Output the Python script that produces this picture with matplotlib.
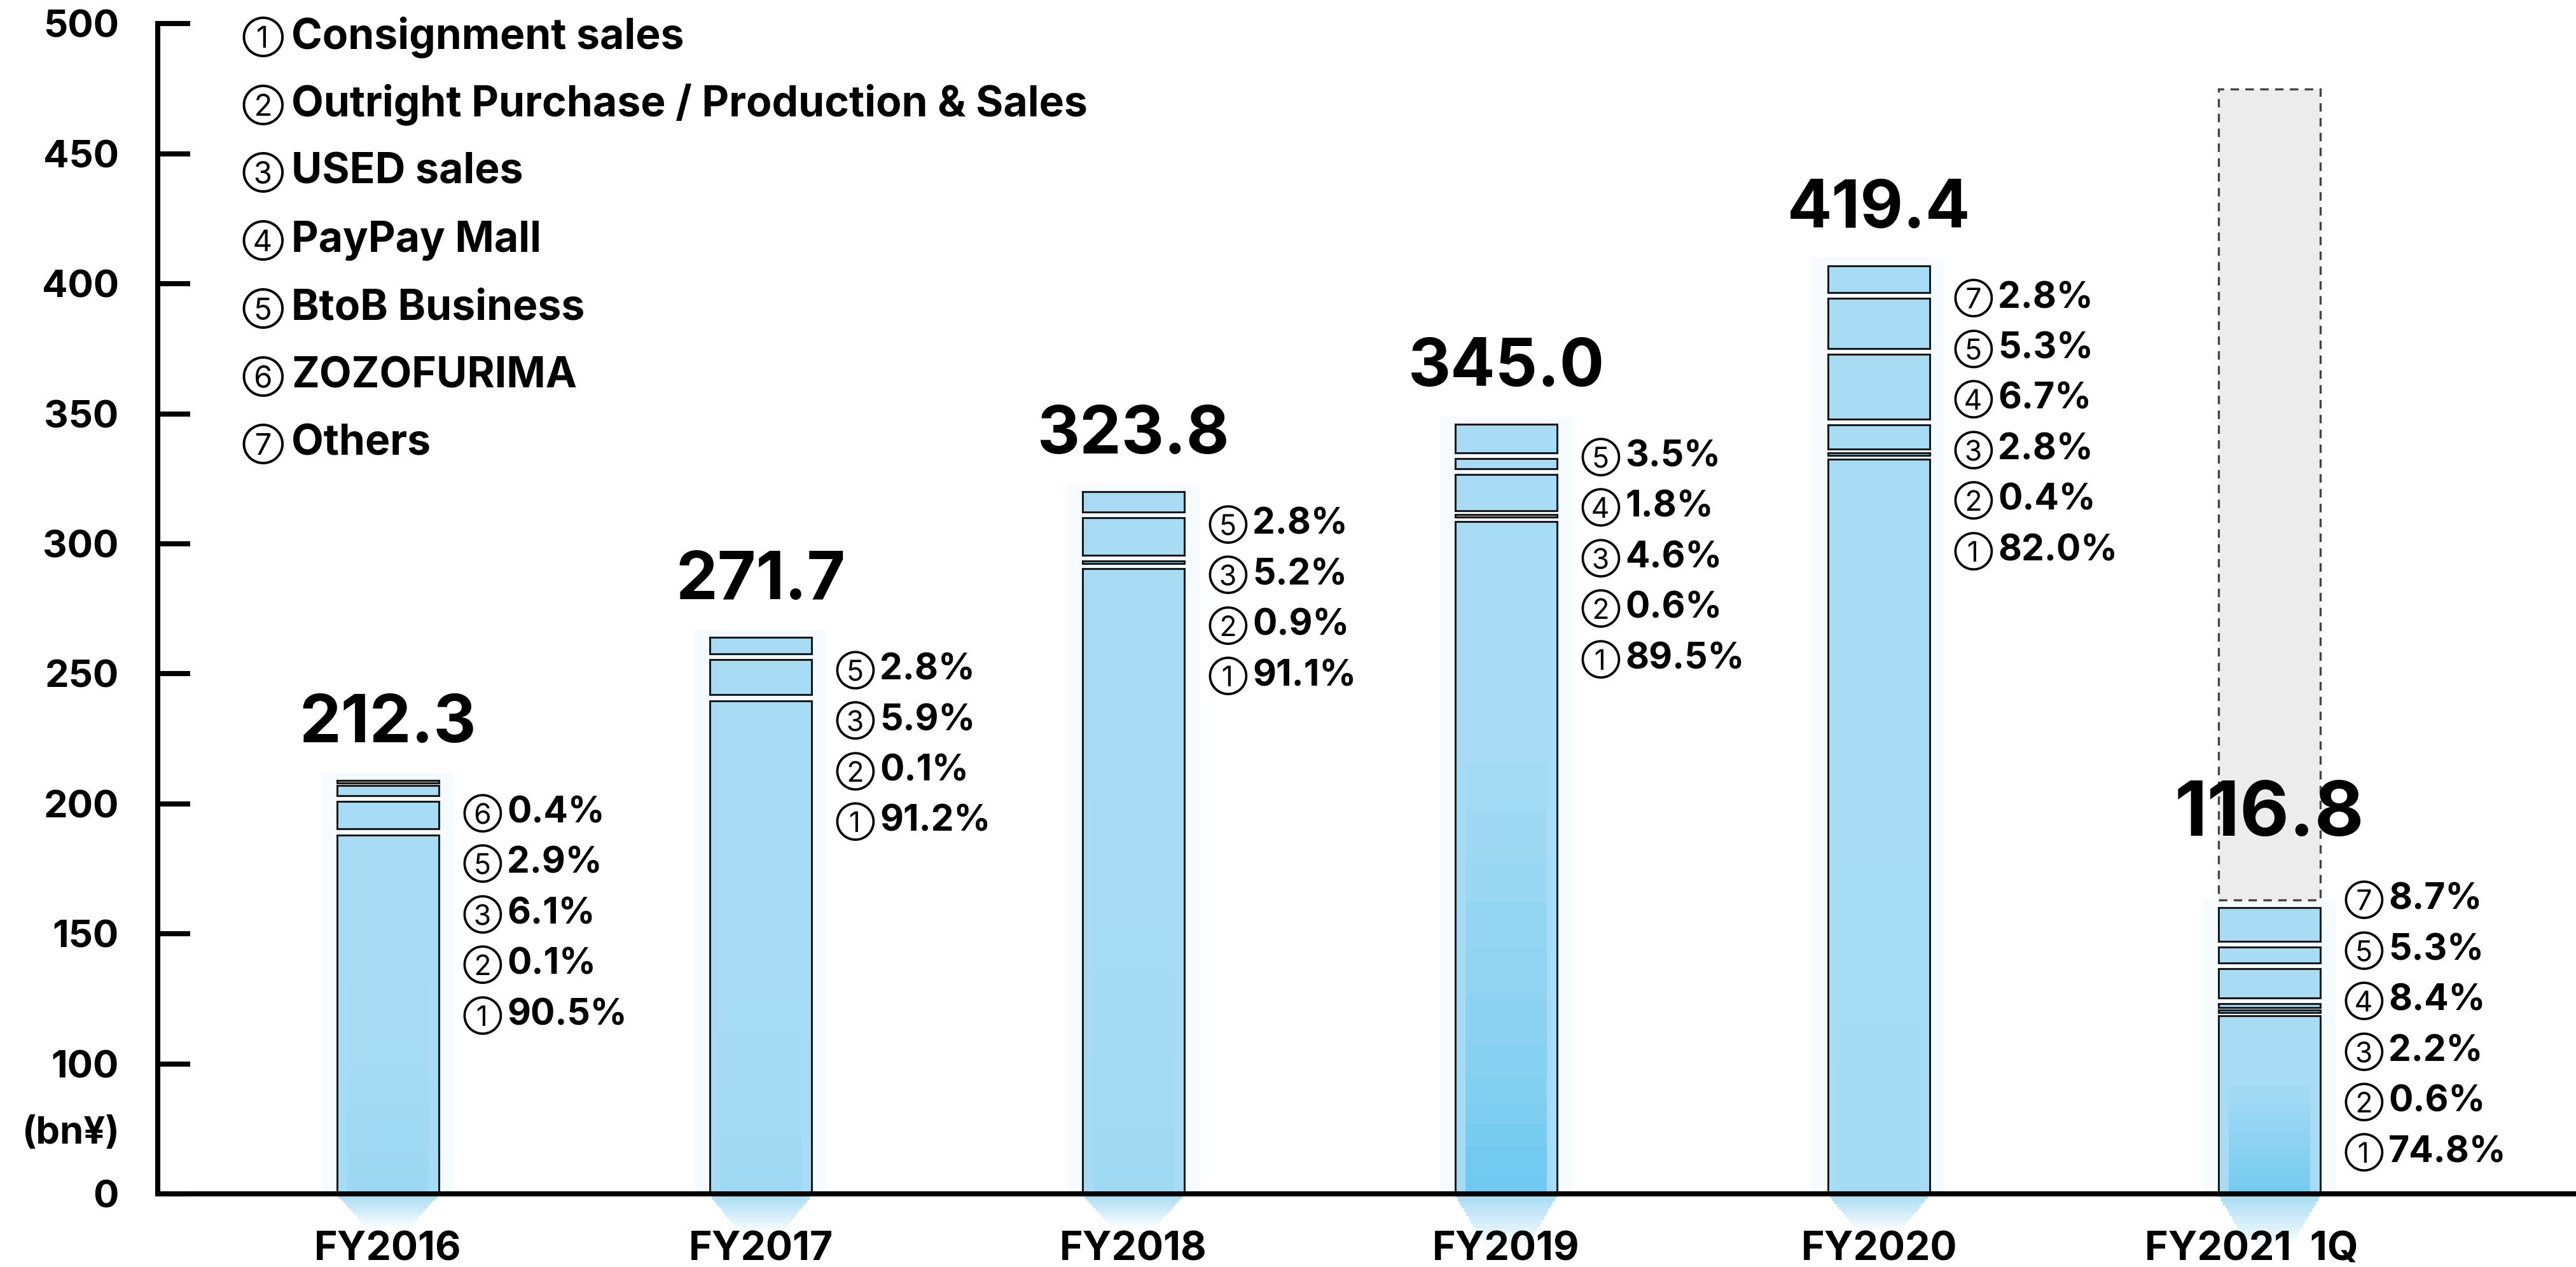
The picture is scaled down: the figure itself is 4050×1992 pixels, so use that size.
"""Gross merchandise value by business, FY2016 - FY2021 1Q (watercolour style bars)."""

import numpy as np
import matplotlib

matplotlib.use("Agg")
import matplotlib.pyplot as plt  # noqa: E402
from matplotlib.patches import Rectangle  # noqa: E402

plt.rcParams["font.family"] = ["Inter", "Noto Sans CJK JP", "DejaVu Sans"]
plt.rcParams["font.weight"] = "bold"

years = ["FY2016", "FY2017", "FY2018", "FY2019", "FY2020", "FY2021  1Q"]
total_labels = ["212.3", "271.7", "323.8", "345.0", "419.4", "116.8"]
# bar tops as they are drawn in the artwork (the drawing is not to scale)
drawn_height = [209, 264, 320, 346, 407, 160]
forecast_top = 475  # dashed grey box above the 1Q bar

segment_names = ["Consignment sales", "Outright Purchase / Production & Sales",
                 "USED sales", "PayPay Mall", "BtoB Business", "ZOZOFURIMA", "Others"]
marks = ["①", "②", "③", "④", "⑤", "⑥", "⑦"]

nan = np.nan
consignment = [90.5, 91.2, 91.1, 89.5, 82.0, 74.8]
outright = [0.1, 0.1, 0.9, 0.6, 0.4, 0.6]
used = [6.1, 5.9, 5.2, 4.6, 2.8, 2.2]
paypay = [nan, nan, nan, 1.8, 6.7, 8.4]
btob = [2.9, 2.8, 2.8, 3.5, 5.3, 5.3]
zozofurima = [0.4, nan, nan, nan, nan, nan]
others = [nan, nan, nan, nan, 2.8, 8.7]
shares = np.array([consignment, outright, used, paypay, btob, zozofurima, others])

yticks = [0, 100, 150, 200, 250, 300, 350, 400, 450, 500]

BLUE = "#a8dcf4"
DARK_BLUE = "#5cc3ef"
wash = [0.15, 0.10, 0.10, 0.75, 0.08, 0.65]   # darker pigment pooling at the bottom
tail = [26, 30, 26, 40, 28, 40]               # colour bleeding under the axis
shift = [0, 0, 0, 0, 0, 0.048]                # last bar sits a little right of its label
BAR_W = 0.273
GAP = 2.2


def fwd(v):
    v = np.asarray(v, dtype=float)
    return np.where(v < 100, v / 2.0, v - 50.0)


def inv(t):
    t = np.asarray(t, dtype=float)
    return np.where(t < 50, t * 2.0, t + 50.0)


fig = plt.figure(figsize=(40.5, 19.92), dpi=100)
ax = fig.add_axes([0.0612, 0.0577, 0.9388, 0.9235])
ax.set_yscale("function", functions=(fwd, inv))

x = np.arange(len(years))
last = len(x) - 1
for i in range(len(x)):
    xi = x[i] + shift[i]
    top = drawn_height[i]
    # faint halo of the brush stroke
    ax.bar(xi, top + 3, width=BAR_W * 1.3, color="#f5fbfe", zorder=1)
    # bleeding tail below the baseline
    n = 14
    for k in range(n):
        f = k / n
        ax.add_patch(Rectangle((xi - BAR_W * (1 - 0.6 * f) / 2, -tail[i] * (f + 1 / n)),
                               BAR_W * (1 - 0.6 * f), tail[i] / n, facecolor=BLUE,
                               alpha=1 - f, lw=0, zorder=1, clip_on=False))

    vals = shares[:, i]
    bottom = 0.0
    for j, s in enumerate(vals):
        if np.isnan(s):
            continue
        h = top * s / 100.0
        if s >= 0.3:
            lo = bottom if bottom == 0 else bottom + GAP / 2
            hi = bottom + h - GAP / 2 if bottom + h < top - 0.01 else bottom + h
            if hi - lo < 0.9:
                mid = bottom + h / 2
                lo, hi = mid - 0.45, mid + 0.45
            ax.bar(xi, hi - lo, bottom=lo, width=BAR_W, color=BLUE,
                   edgecolor="#1a1a1a", linewidth=2.2, zorder=3)
            if j == 0:
                # darker pigment in the lower part of the big segment
                m = 12
                for k in range(m):
                    f = k / m
                    ax.bar(xi, (hi - lo) * 0.7 / m, bottom=(hi - lo) * 0.7 * f,
                           width=BAR_W * 0.8, color=DARK_BLUE,
                           alpha=wash[i] * (1 - f), lw=0, zorder=3.5)
        bottom += h

    # value label above the bar
    off = 104 if i == last else 63
    ax.annotate(total_labels[i], (xi, top), xytext=(0, off), textcoords="offset points",
                ha="center", va="center", fontsize=86 if i == last else 75,
                fontweight="bold", zorder=6)

    # segment shares, listed from the top segment down
    drop = -9 if i == last else 37
    line = 0
    for j in range(len(vals) - 1, -1, -1):
        if np.isnan(vals[j]):
            continue
        dy = -drop - 57.2 * line
        ax.annotate(marks[j], (xi + BAR_W / 2, top), xytext=(27, dy),
                    textcoords="offset points", ha="left", va="center",
                    fontsize=32, fontweight="normal", zorder=6)
        ax.annotate(f"{vals[j]:.1f}%", (xi + BAR_W / 2, top), xytext=(77, dy),
                    textcoords="offset points", ha="left", va="center",
                    fontsize=41, fontweight="bold", zorder=6)
        line += 1

# dashed grey box for the rest of the year
xl = x[-1] + shift[-1]
ax.add_patch(Rectangle((xl - BAR_W / 2, drawn_height[-1] + 3), BAR_W,
                       forecast_top - drawn_height[-1] - 3, facecolor="#ececec",
                       edgecolor="#444444", linestyle=(0, (4, 3)), linewidth=2.4, zorder=2))

ax.set_xlim(-0.618, 5.87)
ax.set_ylim(0, 500)
ax.set_yticks(yticks)
ax.set_yticklabels([str(t) for t in yticks])
ax.set_xticks(x)
ax.set_xticklabels(years)

for side in ("top", "right"):
    ax.spines[side].set_visible(False)
ax.spines["left"].set_linewidth(5.8)
ax.spines["bottom"].set_linewidth(5.8)
ax.spines["left"].set_zorder(5)
ax.spines["bottom"].set_zorder(5)
ax.tick_params(axis="y", direction="in", length=37, width=5.8, pad=44, labelsize=43)
ax.tick_params(axis="x", length=0, pad=42, labelsize=45)
ax.set_facecolor("none")

# legend of segment numbers, top left
for j, name in enumerate(segment_names):
    yf = 1 - (58 + 106.7 * j) / 1992
    fig.text(0.0940, yf, marks[j], ha="left", va="center", fontsize=34, fontweight="normal")
    fig.text(0.1131, yf, name, ha="left", va="center", fontsize=47.5, fontweight="bold")

fig.text(0.0274, 1 - 1782 / 1992, "(bn¥)", ha="center", va="center",
         fontsize=43, fontweight="bold")

fig.savefig("out.png", dpi=100, facecolor="white")
